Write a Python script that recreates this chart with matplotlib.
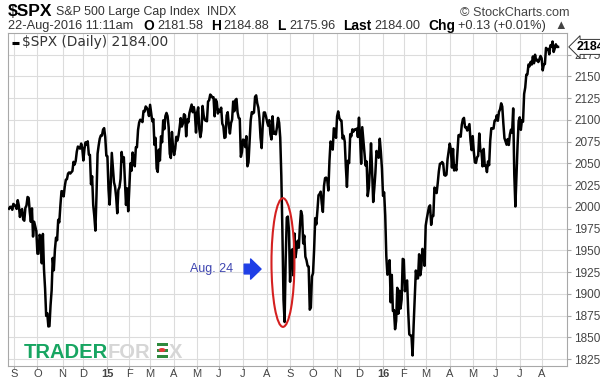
"""
$SPX daily line chart (Aug-2014 .. Aug-2016), StockCharts style, with the
Aug. 24 flash-crash highlighted.
Output: out.png (600x383)
"""
import matplotlib
matplotlib.use("Agg")
import matplotlib.pyplot as plt
from matplotlib.patches import Ellipse, Rectangle, FancyArrowPatch
import numpy as np

# daily closes, one list per month
aug14 = [1997.9, 2000.0, 2000.1, 1996.7, 2003.4]
sep14 = [2002.3, 2000.7, 1997.7, 2007.7, 2001.5, 1988.4, 1995.7, 1997.5, 1985.5, 1984.1, 1998.9,
         2001.6, 2011.4, 2010.4, 1994.3, 1982.8, 1998.3, 1965.9, 1982.9, 1977.8, 1972.3]
oct14 = [1946.2, 1946.2, 1967.9, 1964.8, 1935.1, 1968.9, 1928.2, 1906.1, 1874.7, 1877.7, 1862.5,
         1862.8, 1886.8, 1904.0, 1941.3, 1927.1, 1950.8, 1964.6, 1961.6, 1985.1, 1982.3, 2001.6, 2018.1]
nov14 = [2017.8, 2012.1, 2023.6, 2031.2, 2031.9, 2038.3, 2039.7, 2038.3, 2039.8, 2041.3, 2051.8,
         2048.7, 2052.8, 2063.5, 2069.4, 2068.0, 2067.0, 2072.8, 2067.6]
dec14 = [2053.4, 2066.6, 2074.3, 2071.9, 2075.4, 2060.3, 2059.8, 2026.1, 2035.3, 2002.3, 1989.6,
         1972.7, 2012.9, 2061.2, 2070.7, 2078.5, 2082.2, 2081.9, 2088.8, 2090.6, 2080.4, 2058.9]
jan15 = [2058.2, 2020.6, 2002.6, 2025.9, 2062.1, 2044.8, 2028.3, 2023.0, 2011.3, 1992.7, 2019.4,
         2022.6, 2032.1, 2063.2, 2051.8, 2057.1, 2029.6, 2002.2, 2021.3, 1995.0]
feb15 = [2020.9, 2050.0, 2041.5, 2062.5, 2055.5, 2046.7, 2068.6, 2068.5, 2088.5, 2097.0, 2100.3,
         2099.7, 2097.5, 2110.3, 2109.7, 2115.5, 2113.9, 2110.7, 2104.5]
mar15 = [2117.4, 2107.8, 2098.5, 2101.0, 2071.3, 2079.4, 2044.2, 2040.2, 2065.9, 2053.4, 2081.2,
         2074.3, 2099.5, 2089.3, 2104.4, 2108.1, 2104.4, 2091.5, 2061.1, 2056.2, 2086.2, 2067.9]
apr15 = [2059.7, 2067.0, 2080.6, 2076.3, 2081.9, 2091.2, 2102.1, 2092.4, 2095.8, 2106.6, 2105.0,
         2081.2, 2100.4, 2097.3, 2108.0, 2112.9, 2117.7, 2108.9, 2114.8, 2106.9, 2085.5]
may15 = [2108.3, 2114.5, 2089.5, 2080.2, 2088.0, 2116.1, 2105.3, 2099.9, 2099.1, 2098.5, 2121.1,
         2122.7, 2129.2, 2127.8, 2125.9, 2126.1, 2104.2, 2123.5, 2120.8, 2107.4]
jun15 = [2111.7, 2109.6, 2114.1, 2095.8, 2092.8, 2079.3, 2080.2, 2105.2, 2108.9, 2094.1, 2084.4,
         2096.3, 2100.4, 2121.2, 2110.0, 2122.9, 2124.2, 2108.6, 2102.3, 2101.5, 2057.6, 2063.1]
jul15 = [2077.4, 2076.8, 2068.8, 2081.3, 2046.7, 2051.3, 2076.6, 2099.6, 2109.0, 2107.4, 2108.6,
         2126.6, 2128.3, 2119.2, 2114.2, 2102.2, 2079.7, 2067.6, 2093.3, 2108.6, 2108.6, 2103.8]
aug15 = [2098.0, 2093.3, 2099.8, 2083.6, 2077.6, 2104.2, 2084.1, 2086.1, 2083.4, 2091.5, 2102.4,
         2096.9, 2079.6, 2035.7, 1970.9, 1893.2, 1867.6, 1940.5, 1987.7, 1988.9, 1972.2]
sep15 = [1913.9, 1948.9, 1951.1, 1921.2, 1969.4, 1942.0, 1952.3, 1961.1, 1953.0, 1978.1, 1995.3,
         1990.2, 1958.0, 1967.0, 1942.7, 1938.8, 1932.2, 1931.3, 1881.8, 1884.1, 1920.0]
oct15 = [1923.8, 1951.4, 1987.1, 1979.9, 1995.8, 2013.4, 2014.9, 2017.5, 2003.7, 1994.2, 2023.9,
         2033.1, 2033.7, 2030.8, 2018.9, 2052.5, 2075.2, 2071.2, 2065.9, 2090.4, 2089.4, 2079.4]
nov15 = [2104.1, 2109.8, 2102.3, 2099.9, 2099.2, 2078.6, 2081.7, 2075.0, 2046.0, 2023.0, 2053.2,
         2050.4, 2083.6, 2081.2, 2089.2, 2086.6, 2089.1, 2088.9, 2090.1, 2080.4]
dec15 = [2102.6, 2079.5, 2049.6, 2091.7, 2077.1, 2063.6, 2047.6, 2052.2, 2012.4, 2021.9, 2043.4,
         2073.1, 2041.9, 2005.6, 2021.2, 2039.0, 2064.3, 2061.0, 2056.5, 2078.4, 2063.4, 2043.9]
jan16 = [2012.7, 2016.7, 1990.3, 1943.1, 1922.0, 1923.7, 1938.7, 1890.3, 1921.8, 1880.3, 1881.3,
         1859.3, 1869.0, 1906.9, 1877.1, 1903.6, 1883.0, 1893.4, 1940.2]
feb16 = [1939.4, 1903.0, 1912.5, 1915.4, 1880.1, 1853.4, 1852.2, 1851.9, 1829.1, 1864.8, 1895.6,
         1926.8, 1917.8, 1917.8, 1945.5, 1921.3, 1929.8, 1951.7, 1948.1, 1932.2]
mar16 = [1978.4, 1986.5, 1993.4, 2000.0, 2001.8, 1979.3, 1989.3, 1989.6, 2022.2, 2019.6, 2015.9,
         2027.2, 2040.6, 2049.6, 2049.8, 2051.6, 2049.8, 2036.7, 2035.9, 2037.1, 2055.0, 2064.0]
apr16 = [2072.8, 2066.1, 2045.2, 2066.7, 2041.9, 2047.6, 2042.0, 2061.7, 2082.4, 2082.8, 2080.7,
         2094.3, 2100.8, 2102.4, 2091.5, 2091.6, 2087.8, 2091.7, 2095.2, 2075.8, 2065.3]
may16 = [2081.4, 2063.4, 2051.1, 2050.6, 2057.1, 2058.7, 2084.4, 2064.5, 2064.1, 2046.6, 2066.7,
         2047.2, 2047.6, 2040.0, 2052.3, 2048.0, 2076.1, 2090.5, 2090.1, 2090.1, 2099.1]
jun16 = [2099.3, 2105.3, 2099.1, 2109.4, 2112.1, 2119.1, 2115.5, 2096.1, 2079.1, 2075.3, 2071.5,
         2078.0, 2071.2, 2083.3, 2088.9, 2085.5, 2113.3, 2037.4, 2000.5, 2036.1, 2070.8, 2098.9]
jul16 = [2103.0, 2088.6, 2099.7, 2097.9, 2129.9, 2137.2, 2152.1, 2152.4, 2163.8, 2161.7, 2166.9,
         2163.8, 2173.0, 2165.2, 2175.0, 2168.5, 2169.2, 2166.6, 2170.1, 2173.6]
aug16 = [2170.8, 2157.0, 2163.8, 2164.3, 2182.9, 2180.9, 2181.7, 2175.5, 2185.8, 2184.1, 2190.2,
         2178.2, 2182.2, 2187.0, 2183.9, 2184.0]

month_closes = [aug14, sep14, oct14, nov14, dec14, jan15, feb15, mar15, apr15, may15, jun15,
                jul15, aug15, sep15, oct15, nov15, dec15, jan16, feb16, mar16, apr16, may16,
                jun16, jul16, aug16]
month_labels = ["", "S", "O", "N", "D", "15", "F", "M", "A", "M", "J", "J", "A",
                "S", "O", "N", "D", "16", "F", "M", "A", "M", "J", "J", "A"]
year_labels = ["15", "16"]
y_ticks = [1825, 1850, 1875, 1900, 1925, 1950, 1975, 2000, 2025, 2050, 2075, 2100, 2125, 2150, 2175]

quote = {"O": "2181.58", "H": "2184.88", "L": "2175.96", "Last": "2184.00", "Chg": "+0.13 (+0.01%)"}

W, H = 600, 383
SANS = "Liberation Sans"


def fx(px):
    return px / W


def fy(py):
    return 1 - py / H


def fit_text(fig, x0, x1, y, s, **kw):
    """Put text between pixel x0 and x1, scaling the font size to fit."""
    r = fig.canvas.get_renderer()
    t = fig.text(fx(x0), fy(y), s, ha="left", va="center", **kw)
    w = t.get_window_extent(renderer=r).width
    t.set_fontsize(t.get_fontsize() * (x1 - x0) / w)
    return t


def text_run(fig, pieces, x0, y, size):
    r = fig.canvas.get_renderer()
    x = x0
    for s, bold, color, gap in pieces:
        t = fig.text(fx(x), fy(y), s, ha="left", va="center", family=SANS, color=color,
                     fontsize=size * (1.08 if bold else 1.0),
                     fontweight="bold" if bold else "normal")
        x += t.get_window_extent(renderer=r).width + gap
    return x


def main():
    closes = np.concatenate([np.asarray(m, dtype=float) for m in month_closes])
    xs = np.arange(len(closes))
    month_start = np.cumsum([0] + [len(m) for m in month_closes[:-1]])

    fig = plt.figure(figsize=(W / 100, H / 100), dpi=100)
    fig.patch.set_facecolor("white")
    ax = fig.add_axes([fx(8), fy(366), (567 - 8) / W, (366 - 33) / H])

    ax.plot(xs, closes, color="black", lw=1.8, zorder=3)
    ax.set_xlim(-0.9, len(closes) - 1 + 8.2)
    ax.set_ylim(1817, 2200)

    ax.yaxis.tick_right()
    ax.set_yticks(y_ticks)
    ax.set_yticklabels([str(v) for v in y_ticks], family=SANS)
    ax.set_xticks(month_start[1:])
    ax.set_xticklabels(month_labels[1:], family=SANS)
    for lab in ax.get_xticklabels():
        if lab.get_text() in year_labels:
            lab.set_fontweight("bold")
            lab.set_fontsize(9.5)
            lab.set_color("black")

    ax.grid(color="#dcdcdc", lw=0.8)
    ax.set_axisbelow(True)
    for s in ax.spines.values():
        s.set_color("#a8a8a8")
        s.set_linewidth(0.8)
    ax.tick_params(axis="y", length=3, pad=2, color="#a8a8a8", labelcolor="#444444", labelsize=8.5)
    ax.tick_params(axis="x", length=2, pad=0.5, color="#a8a8a8", labelcolor="#444444", labelsize=8)

    # last value tag
    last = closes[-1]
    ax.annotate(f"{last:.2f}", xy=(1, last), xycoords=("axes fraction", "data"),
                xytext=(7, 0), textcoords="offset points", ha="left", va="center",
                fontsize=9, fontweight="bold", family=SANS, annotation_clip=False, zorder=10,
                bbox=dict(boxstyle="larrow,pad=0.12", fc="white", ec="#333333", lw=0.7))

    # Aug. 24 annotation
    i_low = 0
    for m in month_closes[:12]:
        i_low += len(m)
    i_low += int(np.argmin(aug15))
    ax.add_patch(Ellipse((i_low - 1.5, 1936), width=21, height=148, fill=False,
                         ec="#d42020", lw=1.5, zorder=4))
    ax.add_patch(FancyArrowPatch((i_low - 39.5, 1928.5), (i_low - 19, 1928.5),
                                 arrowstyle="simple,head_length=0.75,head_width=1.45,tail_width=0.7",
                                 mutation_scale=10, fc="#1f3fe6", ec="#1f3fe6", zorder=5))
    ax.text(i_low - 47.5, 1928.5, "Aug. 24", ha="right", va="center", color="#3d44b0",
            fontsize=9, family=SANS, zorder=5)

    # header
    fig.text(fx(8), fy(12), "$SPX", ha="left", va="center", family=SANS, fontsize=12.5,
             fontweight="bold", color="black")
    fit_text(fig, 56, 236, 12.5, "S&P 500 Large Cap Index  INDX", family=SANS, fontsize=9,
             color="#333333")
    fit_text(fig, 460, 569, 12.5, "\u00a9 StockCharts.com", family=SANS, fontsize=9,
             color="#444444")

    pieces = [("22-Aug-2016 11:11am", False, "#333333", 10)]
    for k, v in quote.items():
        pieces.append((k, True, "black", 3))
        pieces.append((v, False, "#333333", 8))
    pieces.append(("\u25b2", False, "#444444", 0))
    size = 9.0
    n_before = len(fig.texts)
    end = text_run(fig, pieces, 8, 26, size)
    for t in fig.texts[n_before:]:
        t.remove()
    text_run(fig, pieces, 8, 26, size * (569 - 8) / (end - 8))

    # legend line inside the plot
    ax.plot([0.008, 0.02], [0.971, 0.971], transform=ax.transAxes, color="black", lw=2.2,
            solid_capstyle="butt", zorder=6)
    fit_text(fig, 22, 168, 42, "$SPX (Daily) 2184.00", family="DejaVu Sans", fontsize=8.5,
             color="#333333")

    # watermark
    fig.text(fx(24), fy(357.5), "TRADER", ha="left", va="baseline", family=SANS, fontsize=14.5,
             fontweight="bold", color="#17a561", zorder=20)
    fig.text(fx(108), fy(357.5), "FOR", ha="left", va="baseline", family=SANS, fontsize=14.5,
             fontweight="bold", color="#d6d6d6", zorder=20)
    for yb in (342.5, 348.5, 354.5):
        fig.patches.append(Rectangle((fx(157), fy(yb + 3)), 11 / W, 3 / H, transform=fig.transFigure,
                                     fc="#2e8b3e", ec="none", zorder=20))
    fig.patches.append(Ellipse((fx(162), fy(350)), 7 / W, 4 / H, transform=fig.transFigure,
                               fc="#e53a3a", ec="none", zorder=21))
    fig.text(fx(169), fy(357.5), "X", ha="left", va="baseline", family=SANS, fontsize=14.5,
             fontweight="bold", color="#d6d6d6", zorder=20)

    fig.savefig("out.png", dpi=100)
    plt.close(fig)


if __name__ == "__main__":
    main()
